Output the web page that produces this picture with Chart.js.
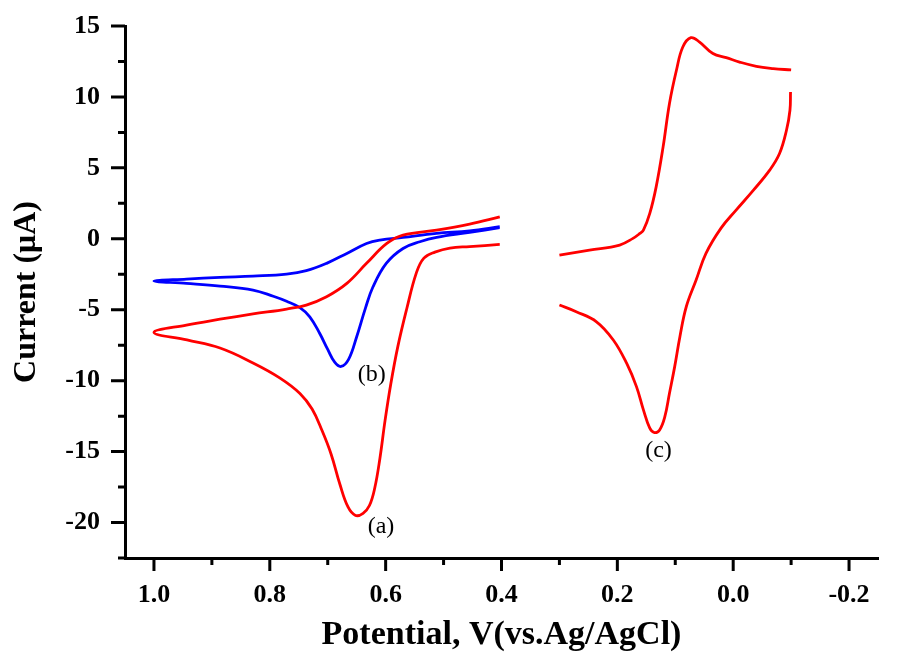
<!DOCTYPE html>
<html>
<head>
<meta charset="utf-8">
<script src="https://cdn.jsdelivr.net/npm/chart.js@4"></script>
<style>
  html, body { margin: 0; padding: 0; background: #fff; }
  #wrap { width: 898px; height: 656px; position: relative; }
</style>
</head>
<body>
<div id="wrap"><canvas id="graph"></canvas></div>
<script>
// curve (a): lower branch from 0.4 V out to 1.0 V, then upper branch back
const aPotential = [0.403, 0.455, 0.489, 0.515, 0.534, 0.547, 0.564, 0.579, 0.591, 0.601, 0.610, 0.619, 0.628, 0.639, 0.652, 0.665, 0.679, 0.694, 0.710, 0.727, 0.748, 0.783, 0.829, 0.886, 0.943, 1.0,
  0.944, 0.886, 0.829, 0.771, 0.737, 0.702, 0.667, 0.633, 0.598, 0.570, 0.512, 0.455, 0.403]
const aCurrent = [-0.40, -0.55, -0.65, -0.94, -1.36, -2.4, -5.0, -7.6, -10.2, -12.8, -15.5, -17.6, -18.8, -19.35, -19.5, -18.9, -17.3, -15.2, -13.5, -12.0, -10.9, -9.8, -8.75, -7.7, -7.13, -6.6,
  -6.08, -5.67, -5.30, -4.95, -4.67, -4.08, -3.14, -1.73, -0.33, 0.26, 0.61, 1.04, 1.55]

// curve (b)
const bPotential = [0.403, 0.455, 0.512, 0.570, 0.610, 0.633, 0.667, 0.702, 0.737, 0.771, 0.829, 0.886, 0.944, 1.0,
  0.944, 0.886, 0.829, 0.794, 0.771, 0.748, 0.731, 0.714, 0.700, 0.688, 0.677, 0.664, 0.650, 0.635, 0.622, 0.599, 0.570, 0.541, 0.512, 0.455, 0.403]
const bCurrent = [0.85, 0.56, 0.38, 0.10, -0.09, -0.33, -1.03, -1.73, -2.25, -2.49, -2.63, -2.72, -2.84, -2.98,
  -3.14, -3.33, -3.61, -4.05, -4.4, -4.85, -5.5, -6.66, -7.8, -8.7, -9.0, -8.5, -6.9, -4.9, -3.4, -1.73, -0.68, -0.21, 0.10, 0.45, 0.78]

// curve (c), drawn in two pieces (there is a gap at -0.1 V)
const cUpPotential = [0.300, 0.248, 0.196, 0.173, 0.161, 0.155, 0.144, 0.133, 0.121, 0.110, 0.098, 0.087, 0.073, 0.058, 0.035, 0.012, -0.011, -0.040, -0.069, -0.100]
const cUpCurrent = [-1.15, -0.80, -0.44, 0.03, 0.38, 0.61, 1.79, 3.66, 6.48, 9.54, 11.88, 13.52, 14.18, 13.87, 13.06, 12.77, 12.46, 12.16, 12.0, 11.9]
const cLowPotential = [-0.099, -0.098, -0.092, -0.080, -0.063, -0.035, -0.005, 0.021, 0.047, 0.064, 0.081, 0.092, 0.101, 0.110, 0.118, 0.127, 0.136, 0.144, 0.155, 0.167, 0.184, 0.207, 0.236, 0.271, 0.300]
const cLowCurrent = [10.35, 9.06, 7.65, 6.01, 4.84, 3.43, 2.02, 0.75, -1.03, -2.91, -4.79, -6.90, -9.01, -10.89, -12.54, -13.47, -13.66, -13.35, -12.06, -10.42, -8.77, -7.13, -5.85, -5.14, -4.67]

const curveLabels = ['(a)', '(b)', '(c)']
const curveLabelX = [0.608, 0.624, 0.129]
const curveLabelY = [-20.3, -9.6, -14.95]

const xMajorTicks = [1.0, 0.8, 0.6, 0.4, 0.2, 0.0, -0.2]
const xMinorTicks = [0.9, 0.7, 0.5, 0.3, 0.1, -0.1]
const yMajorTicks = [-20, -15, -10, -5, 0, 5, 10, 15]
const yMinorTicks = [-22.5, -17.5, -12.5, -7.5, -2.5, 2.5, 7.5, 12.5]

const FONT = "'Liberation Serif', 'Times New Roman', serif"

const toPoints = (xs, ys) => xs.map((x, i) => ({ x: x, y: ys[i] }))

const lineSet = (xs, ys, color) => ({
  data: toPoints(xs, ys),
  showLine: true,
  borderColor: color,
  borderWidth: 2.8,
  pointRadius: 0,
  tension: 0.4,
  fill: false,
})

// tick marks (major + minor) and the (a)/(b)/(c) labels
const decorations = {
  id: 'decorations',
  afterDraw(chart) {
    const ctx = chart.ctx
    const xs = chart.scales.x
    const ys = chart.scales.y
    const area = chart.chartArea
    ctx.save()
    ctx.strokeStyle = '#000'
    ctx.lineWidth = 3
    ctx.beginPath()
    xMajorTicks.forEach((v) => {
      const px = xs.getPixelForValue(v)
      ctx.moveTo(px, area.bottom)
      ctx.lineTo(px, area.bottom + 13)
    })
    xMinorTicks.forEach((v) => {
      const px = xs.getPixelForValue(v)
      ctx.moveTo(px, area.bottom)
      ctx.lineTo(px, area.bottom + 7)
    })
    yMajorTicks.forEach((v) => {
      const py = ys.getPixelForValue(v)
      ctx.moveTo(area.left, py)
      ctx.lineTo(area.left - 14, py)
    })
    yMinorTicks.forEach((v) => {
      const py = ys.getPixelForValue(v)
      ctx.moveTo(area.left, py)
      ctx.lineTo(area.left - 7, py)
    })
    ctx.stroke()

    ctx.fillStyle = '#000'
    ctx.font = '24px ' + FONT
    ctx.textAlign = 'center'
    ctx.textBaseline = 'middle'
    curveLabels.forEach((t, i) => {
      ctx.fillText(t, xs.getPixelForValue(curveLabelX[i]), ys.getPixelForValue(curveLabelY[i]))
    })
    ctx.restore()
  },
}

new Chart(document.getElementById('graph'), {
  type: 'scatter',
  data: {
    datasets: [
      lineSet(aPotential, aCurrent, '#ff0000'),
      lineSet(bPotential, bCurrent, '#0000ff'),
      lineSet(cUpPotential, cUpCurrent, '#ff0000'),
      lineSet(cLowPotential, cLowCurrent, '#ff0000'),
    ],
  },
  options: {
    responsive: true,
    maintainAspectRatio: false,
    animation: false,
    layout: { autoPadding: false, padding: { top: 26, right: 20, left: 0, bottom: 0 } },
    plugins: {
      legend: { display: false },
      tooltip: { enabled: false },
    },
    scales: {
      x: {
        type: 'linear',
        reverse: true,
        min: -0.25,
        max: 1.05,
        afterFit: (s) => {
          s.height = 98
          s.paddingLeft = 0
          s.paddingRight = 0
        },
        grid: { drawOnChartArea: false, drawTicks: false },
        border: { display: true, width: 3, color: '#000' },
        ticks: {
          stepSize: 0.2,
          includeBounds: false,
          padding: 22,
          color: '#000',
          font: { family: FONT, size: 26, weight: 'bold' },
          callback: (v) => v.toFixed(1),
        },
        title: {
          display: true,
          text: 'Potential, V(vs.Ag/AgCl)',
          color: '#000',
          font: { family: FONT, size: 34, weight: 'bold' },
          padding: { top: 0, bottom: 0 },
        },
      },
      y: {
        type: 'linear',
        min: -22.5,
        max: 15,
        afterFit: (s) => {
          s.width = 125
          s.paddingTop = 0
          s.paddingBottom = 0
        },
        grid: { drawOnChartArea: false, drawTicks: false },
        border: { display: true, width: 3, color: '#000' },
        ticks: {
          stepSize: 5,
          includeBounds: false,
          padding: 25,
          color: '#000',
          font: { family: FONT, size: 26, weight: 'bold' },
        },
        title: {
          display: true,
          text: 'Current (μA)',
          color: '#000',
          font: { family: FONT, size: 32, weight: 'bold' },
          padding: { top: 8, bottom: 0 },
        },
      },
    },
  },
  plugins: [decorations],
})
</script>
</body>
</html>
